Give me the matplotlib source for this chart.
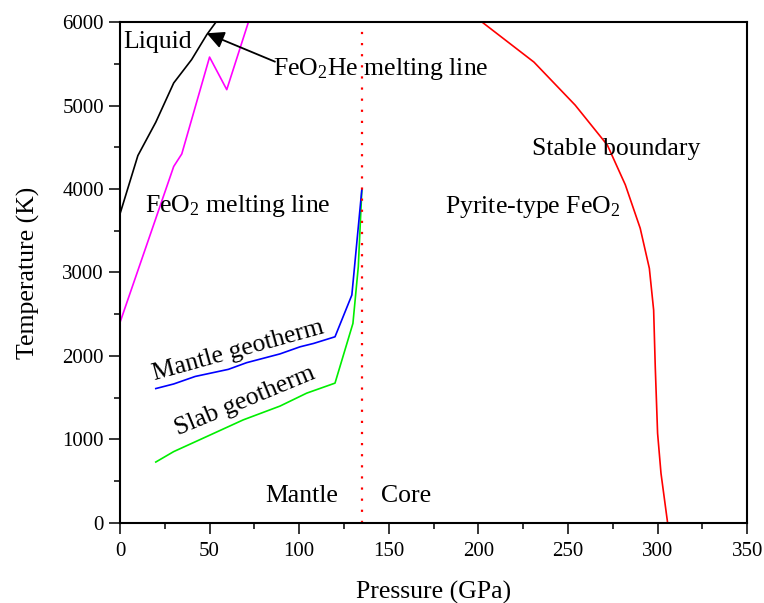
import matplotlib
matplotlib.use('Agg')
import matplotlib.pyplot as plt
from matplotlib.ticker import MultipleLocator

# Phase diagram of FeO2 / FeO2He along Earth's geotherms
liquid_p = [0, 10, 20, 30, 40, 48.5, 53.6]
liquid_t = [3700, 4400, 4800, 5270, 5550, 5850, 6000]

feo2_melt_p = [0, 30, 34.5, 50, 59.6, 71.7]
feo2_melt_t = [2400, 4270, 4420, 5580, 5190, 6000]

mantle_p = [20, 30, 42, 60.5, 70.7, 89.3, 100.5, 108, 120, 129.4, 135]
mantle_t = [1610, 1665, 1755, 1840, 1920, 2025, 2110, 2150, 2230, 2730, 4000]

slab_p = [20, 30, 48.4, 68.8, 89.3, 104.2, 120, 130, 133, 135]
slab_t = [730, 855, 1035, 1235, 1400, 1555, 1675, 2390, 3070, 4000]

stable_p = [202, 231, 254, 272, 282, 290.3, 295.4, 297.8, 298.7, 300, 301.9, 305.6]
stable_t = [6000, 5520, 5005, 4525, 4050, 3530, 3050, 2550, 1870, 1075, 595, 0]

cmb_p = 135

plt.rcParams.update({
    'font.family': 'Liberation Serif',
    'mathtext.default': 'regular',
    'font.size': 18,
    'axes.linewidth': 1.5,
    'xtick.major.width': 1.1,
    'ytick.major.width': 1.1,
    'xtick.minor.width': 1.1,
    'ytick.minor.width': 1.1,
})

fig = plt.figure(figsize=(7.64, 6.03), dpi=100)
ax = fig.add_axes([0.157, 0.1327, 0.821, 0.8308])

lw = 1.2
ax.plot(liquid_p, liquid_t, color='black', lw=lw)
ax.plot(feo2_melt_p, feo2_melt_t, color='#ff00ff', lw=lw)
ax.plot(slab_p, slab_t, color='#00ee00', lw=lw)
ax.plot(mantle_p, mantle_t, color='#0000ff', lw=lw)
ax.plot(stable_p, stable_t, color='red', lw=lw)
ax.axvline(cmb_p, color='red', lw=1.6, linestyle=(0, (1, 4)))

ax.set_xlim(0, 350)
ax.set_ylim(0, 6000)
ax.xaxis.set_major_locator(MultipleLocator(50))
ax.xaxis.set_minor_locator(MultipleLocator(25))
ax.yaxis.set_major_locator(MultipleLocator(1000))
ax.yaxis.set_minor_locator(MultipleLocator(500))
ax.tick_params(which='major', direction='out', length=8, labelsize=15)
ax.tick_params(which='minor', direction='out', length=4)
ax.tick_params(axis='x', pad=6)

ax.set_xlabel('Pressure (GPa)', fontsize=18.5, labelpad=14)
ax.set_ylabel('Temperature (K)', fontsize=18.5, labelpad=16)

fs = 18.5
ax.text(1.7, 5760, 'Liquid', fontsize=fs, ha='left', va='center')
ax.text(85.5, 5370, 'FeO$_{2}$He melting line', fontsize=fs, ha='left', va='baseline')
ax.annotate('', xy=(48.4, 5865), xytext=(86.5, 5525),
            arrowprops=dict(arrowstyle='-|>', color='black', lw=1.3,
                            mutation_scale=26, shrinkA=0, shrinkB=0))
ax.text(14, 3730, 'FeO$_{2}$ melting line', fontsize=fs, ha='left', va='baseline')
ax.text(181.4, 3715, 'Pyrite-type FeO$_{2}$', fontsize=fs, ha='left', va='baseline')
ax.text(230, 4410, 'Stable boundary', fontsize=fs, ha='left', va='baseline')
ax.text(81, 250, 'Mantle', fontsize=fs, ha='left', va='baseline')
ax.text(145.7, 250, 'Core', fontsize=fs, ha='left', va='baseline')
ax.text(19.5, 1713, 'Mantle geotherm', fontsize=fs, ha='left', va='baseline',
        rotation=15.5, rotation_mode='anchor')
ax.text(32.5, 1054, 'Slab geotherm', fontsize=fs, ha='left', va='baseline',
        rotation=22.5, rotation_mode='anchor')

fig.savefig('out.png', dpi=100)
